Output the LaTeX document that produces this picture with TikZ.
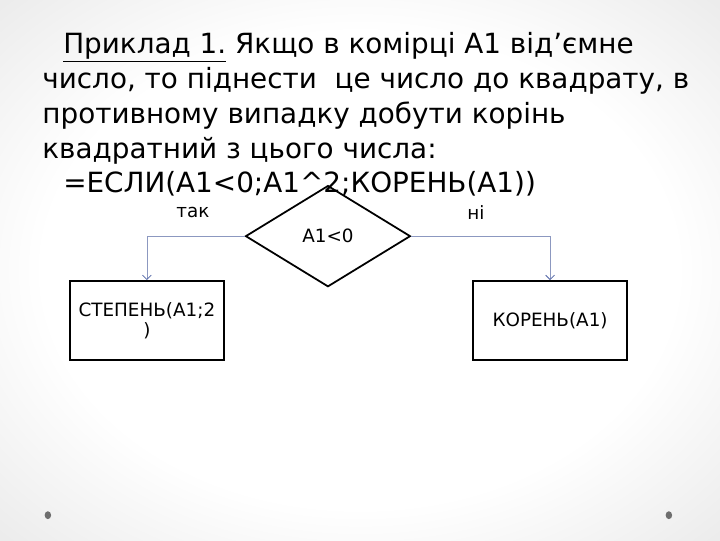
\documentclass[tikz,border=0pt]{standalone}
\usepackage{fontspec}
\setmainfont{DejaVu Sans}
\usetikzlibrary{shapes.geometric, arrows.meta, positioning}
\definecolor{linkblue}{RGB}{140, 152, 192}
\definecolor{tipblue}{RGB}{80, 100, 165}
\definecolor{dotgray}{RGB}{110, 110, 110}
\pgfdeclareradialshading{slidebg}{\pgfpoint{0bp}{0bp}}{color(0bp)=(white); color(22bp)=(white); color(50bp)=(black!16); color(70bp)=(black!19); color(100bp)=(black!19)}

\begin{document}
\begin{tikzpicture}[
  cond/.style={diamond, draw=black, line width=1.4pt, inner sep=0pt, minimum width=4.58cm, minimum height=2.81cm, font=\fontsize{14.5}{17}\selectfont},
  resbox/.style={draw=black, line width=1.4pt, minimum width=4.28cm, minimum height=2.19cm, align=center, font=\fontsize{14.5}{16}\selectfont},
  branch/.style={font=\fontsize{14.5}{17}\selectfont},
  link/.style={draw=linkblue, line width=0.6pt, -{Straight Barb[length=3.5pt, width=7pt, color=tipblue]}}
]
  \shade[shading=slidebg] (0, 0) rectangle (20, 15);
  \useasboundingbox (0, 0) rectangle (20, 15);

  \node[anchor=north west, align=left, inner sep=0pt, font=\fontsize{22}{27.5}\selectfont] (task) at (1.17, 14.1) {%
    \hspace*{0.58cm}\underline{Приклад 1.} Якщо в комірці А1 від’ємне\\
    число, то піднести~ це число до квадрату, в\\
    противному випадку добути корінь\\
    квадратний з цього числа:\\
    \hspace*{0.58cm}=ЕСЛИ(А1<0;А1\^{}2;КОРЕНЬ(А1))};

  \node[cond] (test) at (9.11, 8.44) {А1<0};
  \node[resbox] (power) at (4.08, 6.1) {СТЕПЕНЬ(А1;2\\)};
  \node[resbox] (root) at (15.28, 6.1) {КОРЕНЬ(А1)};

  \node[branch] (yes) at (5.36, 9.11) {так};
  \node[branch] (no) at (13.22, 9.11) {ні};

  \draw[link] (test.west) -| (power.north);
  \draw[link] (test.east) -| (root.north);

  \fill[dotgray] (1.33, 0.69) ellipse (0.09 and 0.11);
  \fill[dotgray] (18.58, 0.69) ellipse (0.09 and 0.11);
\end{tikzpicture}
\end{document}
